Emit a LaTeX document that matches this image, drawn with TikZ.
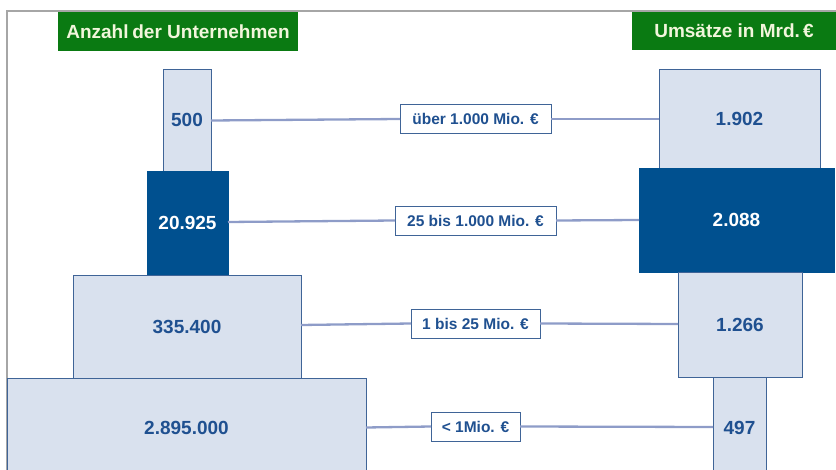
\documentclass[tikz,border=0pt]{standalone}
\usepackage{fontspec}
\setmainfont{Liberation Sans}
\definecolor{frame}{HTML}{A6A6A6}
\definecolor{ttlgreen}{HTML}{0A7A12}
\definecolor{ttltext}{HTML}{F2F6DC}
\definecolor{lightfill}{HTML}{D9E1EE}
\definecolor{boxborder}{HTML}{3F6497}
\definecolor{darkfill}{HTML}{00508F}
\definecolor{numblue}{HTML}{1F5090}
\definecolor{linkline}{HTML}{8E9CC8}
\begin{document}
\begin{tikzpicture}[x=1pt,y=-1pt,
  title/.style={fill=ttlgreen,text=ttltext,font=\fontsize{19}{22}\selectfont\bfseries,inner sep=0pt,outer sep=0pt,anchor=center},
  lightbox/.style={fill=lightfill,draw=boxborder,line width=0.8pt,text=numblue,font=\fontsize{19}{22}\selectfont\bfseries,inner sep=0pt,outer sep=0pt},
  darkbox/.style={fill=darkfill,draw=darkfill,line width=0.8pt,text=white,font=\fontsize{19}{22}\selectfont\bfseries,inner sep=0pt,outer sep=0pt},
  lbl/.style={fill=white,draw=boxborder,line width=0.9pt,text=numblue,font=\fontsize{15.5}{18}\selectfont\bfseries,inner sep=0pt,outer sep=0pt,minimum height=29pt},
  link/.style={draw=linkline,line width=2.3pt}]
\useasboundingbox (0,0) rectangle (836,470);
\begin{scope}
\clip (0,0) rectangle (836,470);
% frame
\draw[frame,line width=2pt] (7,470) -- (7,11) -- (836,11);
% titles
\node[title,minimum width=240pt,minimum height=39pt] (t1) at (178,31.5) {Anzahl\hspace{-1.5pt} der Unternehmen};
\node[title,minimum width=204pt,minimum height=38pt] (t2) at (734,31) {Umsätze in Mrd.\,€};
% left boxes
\node[lightbox,minimum width=48pt,minimum height=102pt] (a1) at (187,120) {500};
\node[darkbox,minimum width=81pt,minimum height=104pt] (a2) at (187.5,223) {20.925};
\node[lightbox,minimum width=228pt,minimum height=103pt] (a3) at (187,326.5) {335.400};
\node[lightbox,minimum width=359pt,minimum height=100pt] (a4) at (186.5,428) {2.895.000};
% right boxes
\node[lightbox,minimum width=161pt,minimum height=99pt] (b1) at (739.5,118.5) {1.902};
\node[darkbox,minimum width=195pt,minimum height=104pt] (b2) at (736.5,220) {2.088};
\node[lightbox,minimum width=124pt,minimum height=105pt] (b3) at (740,324.5) {1.266};
\node[lightbox,minimum width=53pt,minimum height=102pt] (b4) at (739.5,428) {497};
% labels
\node[lbl,minimum width=151pt] (l1) at (475.5,119) {über 1.000 Mio. €};
\node[lbl,minimum width=161pt] (l2) at (475.5,220.5) {25 bis 1.000 Mio. €};
\node[lbl,minimum width=129pt] (l3) at (475.5,323.5) {1 bis 25 Mio. €};
\node[lbl,minimum width=89pt] (l4) at (475.5,426.5) {< 1Mio. €};
% links
\draw[link] (a1.east |- 0,120.5) -- (l1.west);
\draw[link] (l1.east) -- (b1.west |- 0,119);
\draw[link] (a2.east |- 0,222) -- (l2.west);
\draw[link] (l2.east) -- (b2.west |- 0,220);
\draw[link] (a3.east |- 0,325) -- (l3.west);
\draw[link] (l3.east) -- (b3.west |- 0,324);
\draw[link] (a4.east |- 0,427.5) -- (l4.west);
\draw[link] (l4.east) -- (b4.west |- 0,427);
\end{scope}
\end{tikzpicture}
\end{document}
